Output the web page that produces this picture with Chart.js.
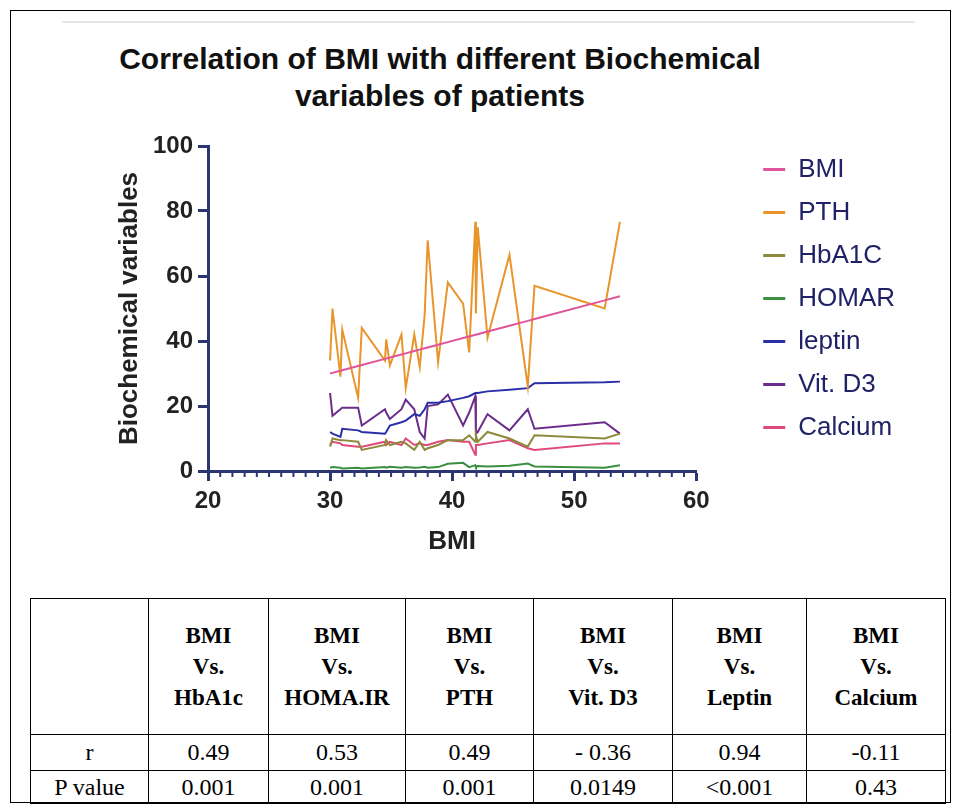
<!DOCTYPE html>
<html>
<head>
<meta charset="utf-8">
<script src="https://cdn.jsdelivr.net/npm/chart.js@4.4.1/dist/chart.umd.min.js"></script>
<style>
  body { margin: 0; width: 956px; height: 808px; background: #fff; position: relative; overflow: hidden;
         font-family: 'Liberation Sans', Arial, sans-serif; }
  #frame { position: absolute; left: 10px; top: 10px; width: 941px; height: 793px; border: 1px solid #000; box-sizing: border-box; }
  #rule { position: absolute; left: 62px; top: 21px; width: 853px; height: 2px; background: #e6e6e6; }
  #title { position: absolute; left: 0; top: 40px; width: 880px; text-align: center; font-weight: bold;
           font-size: 30px; line-height: 37px; color: #111; }
  #wrap { position: absolute; left: 0; top: 110px; width: 956px; height: 470px; }
  table { position: absolute; left: 30px; top: 598px; border-collapse: collapse; table-layout: fixed;
          font-family: 'Liberation Serif', 'Times New Roman', serif; font-size: 24px; color: #000; }
  td, th { border: 1px solid #000; text-align: center; padding: 0; }
  th { font-weight: bold; font-size: 23px; line-height: 31px; height: 135px; }
  tr.r td { height: 35px; }
  tr.p td { height: 32px; }
</style>
</head>
<body>
<div id="frame"></div>
<div id="rule"></div>
<div id="title">Correlation of BMI with different Biochemical<br>variables of patients</div>
<div id="wrap"><canvas id="bmiChart" width="956" height="470"></canvas></div>

<table>
  <colgroup>
    <col style="width:118px"><col style="width:120px"><col style="width:137px"><col style="width:128px">
    <col style="width:139px"><col style="width:134px"><col style="width:139px">
  </colgroup>
  <tr>
    <th></th>
    <th>BMI<br>Vs.<br>HbA1c</th>
    <th>BMI<br>Vs.<br>HOMA.IR</th>
    <th>BMI<br>Vs.<br>PTH</th>
    <th>BMI<br>Vs.<br>Vit. D3</th>
    <th>BMI<br>Vs.<br>Leptin</th>
    <th>BMI<br>Vs.<br>Calcium</th>
  </tr>
  <tr class="r">
    <td>r</td><td>0.49</td><td>0.53</td><td>0.49</td><td>- 0.36</td><td>0.94</td><td>-0.11</td>
  </tr>
  <tr class="p">
    <td>P value</td><td>0.001</td><td>0.001</td><td>0.001</td><td>0.0149</td><td>&lt;0.001</td><td>0.43</td>
  </tr>
</table>

<script>
// BMI of each patient (x values, sorted)
const bmi = [30.0, 30.2, 30.85, 31.0, 32.3, 32.6, 34.5, 34.6, 34.9, 35.85, 36.2, 36.9, 37.35, 37.75,
             38.0, 38.85, 39.65, 40.9, 41.4, 41.9, 41.95, 42.1, 42.9, 44.7, 46.2, 46.75, 52.5, 53.75];

// biochemical variables, one value per patient
const pth     = [34, 50, 29, 43.5, 22.5, 44, 34, 40.5, 32.5, 42, 25.5, 42, 32, 48,
                 71, 33.5, 58, 51.5, 36.5, 76.7, 48.5, 75, 41, 66.5, 26, 57, 50, 76.7];
const hba1c   = [7.5, 10, 9.5, 9.5, 9, 6.5, 8, 9.5, 8, 9, 8.5, 6.5, 9, 6.5,
                 7, 8, 9.5, 9.5, 11, 9, 11, 9, 12, 10, 7.5, 11, 10, 11.5];
const homar   = [1.0, 1.2, 1.0, 0.8, 1.0, 0.8, 1.2, 1.0, 1.3, 1.0, 1.2, 1.0, 1.1, 1.3,
                 1.0, 1.2, 2.2, 2.5, 1.2, 1.8, 1.2, 1.5, 1.4, 1.6, 2.3, 1.4, 1.0, 1.8];
const leptin  = [12, 11.5, 10.5, 13, 12.5, 12, 11.5, 12, 14, 15, 15.5, 17.5, 17, 19,
                 21, 21, 21.5, 22.5, 23, 24, 24, 24, 24.5, 25, 25.5, 27, 27.3, 27.5];
const vitD3   = [24, 17, 19, 19.5, 19.5, 14, 19, 18, 16, 19, 22, 19, 12, 10,
                 20, 20.5, 23.5, 14, 18, 23, 11.5, 12, 17.5, 12.5, 19, 13, 15, 11.5];
const calcium = [8, 9, 8.5, 8, 7.5, 7.5, 9, 8, 9, 8, 10, 8, 8.5, 8,
                 8, 9, 9.5, 9, 9, 5, 8, 8, 8.5, 9.5, 7, 6.5, 8.5, 8.5];

const seriesNames = ["BMI", "PTH", "HbA1C", "HOMAR", "leptin", "Vit. D3", "Calcium"];
const xTicks = [20, 30, 40, 50, 60];
const yTicks = [0, 20, 40, 60, 80, 100];

const navy = "#2b3572";
const colors = ["#e0559a", "#e8962c", "#8e8a3c", "#3a9040", "#2a2fa8", "#6b2c8c", "#e04a78"];
// BMI plotted against itself gives the diagonal
const values = [bmi, pth, hba1c, homar, leptin, vitD3, calcium];

const datasets = seriesNames.map((name, i) => ({
  label: name,
  data: bmi.map((b, j) => ({ x: b, y: values[i][j] })),
  borderColor: colors[i],
  backgroundColor: colors[i],
  borderWidth: 2,
  pointRadius: 0,
  tension: 0
}));

// small ticks between the labelled ones on the x axis
const minorTicks = {
  id: "minorTicks",
  afterDraw(chart) {
    const x = chart.scales.x;
    const ctx = chart.ctx;
    ctx.save();
    ctx.strokeStyle = navy;
    ctx.lineWidth = 2;
    for (let v = x.min + 1; v < x.max; v++) {
      if (v % 10 === 0) continue;
      const px = x.getPixelForValue(v);
      ctx.beginPath();
      ctx.moveTo(px, x.top);
      ctx.lineTo(px, x.top + 6);
      ctx.stroke();
    }
    ctx.restore();
  }
};

// lift the legend a little so it sits level with the plot like the original
const legendNudge = {
  id: "legendNudge",
  afterLayout(chart) {
    chart.legend.top -= 10;
    chart.legend.bottom -= 10;
  }
};

Chart.defaults.font.family = "'Liberation Sans', Arial, sans-serif";

new Chart(document.getElementById("bmiChart").getContext("2d"), {
  type: "line",
  data: { datasets: datasets },
  plugins: [minorTicks, legendNudge],
  options: {
    responsive: false,
    animation: false,
    devicePixelRatio: 1,
    layout: { padding: { left: 110, top: 36, right: 51, bottom: 19 } },
    plugins: {
      tooltip: { enabled: false },
      legend: {
        position: "right",
        fullSize: false,
        maxWidth: 220,
        labels: {
          boxWidth: 22,
          boxHeight: 3,
          padding: 17,
          color: "#1f2266",
          font: { size: 26 },
          generateLabels: (chart) =>
            Chart.defaults.plugins.legend.labels.generateLabels(chart).map(l => ({ ...l, lineWidth: 0 }))
        }
      }
    },
    scales: {
      x: {
        type: "linear",
        min: 20,
        max: 60,
        afterBuildTicks: s => { s.ticks = xTicks.map(v => ({ value: v })); },
        afterFit: s => { s.height = 90; },
        border: { color: navy, width: 3 },
        grid: { drawOnChartArea: false, color: navy, tickLength: 10, tickWidth: 3 },
        ticks: { color: "#222", font: { size: 24, weight: "bold" }, padding: 6 },
        title: { display: true, text: "BMI", color: "#222", font: { size: 26, weight: "bold" } }
      },
      y: {
        min: 0,
        max: 100,
        afterBuildTicks: s => { s.ticks = yTicks.map(v => ({ value: v })); },
        afterFit: s => { s.width = 98; },
        border: { color: navy, width: 3 },
        grid: { drawOnChartArea: false, color: navy, tickLength: 10, tickWidth: 3 },
        ticks: { color: "#222", font: { size: 24, weight: "bold" }, padding: 5 },
        title: { display: true, text: "Biochemical variables", color: "#222", font: { size: 26, weight: "bold" } }
      },
      // empty scale that keeps a gap between the plot and the legend
      gap: {
        type: "linear",
        position: "right",
        afterFit: s => { s.width = 50; },
        grid: { display: false },
        border: { display: false },
        ticks: { display: false }
      }
    }
  }
});
</script>
</body>
</html>
